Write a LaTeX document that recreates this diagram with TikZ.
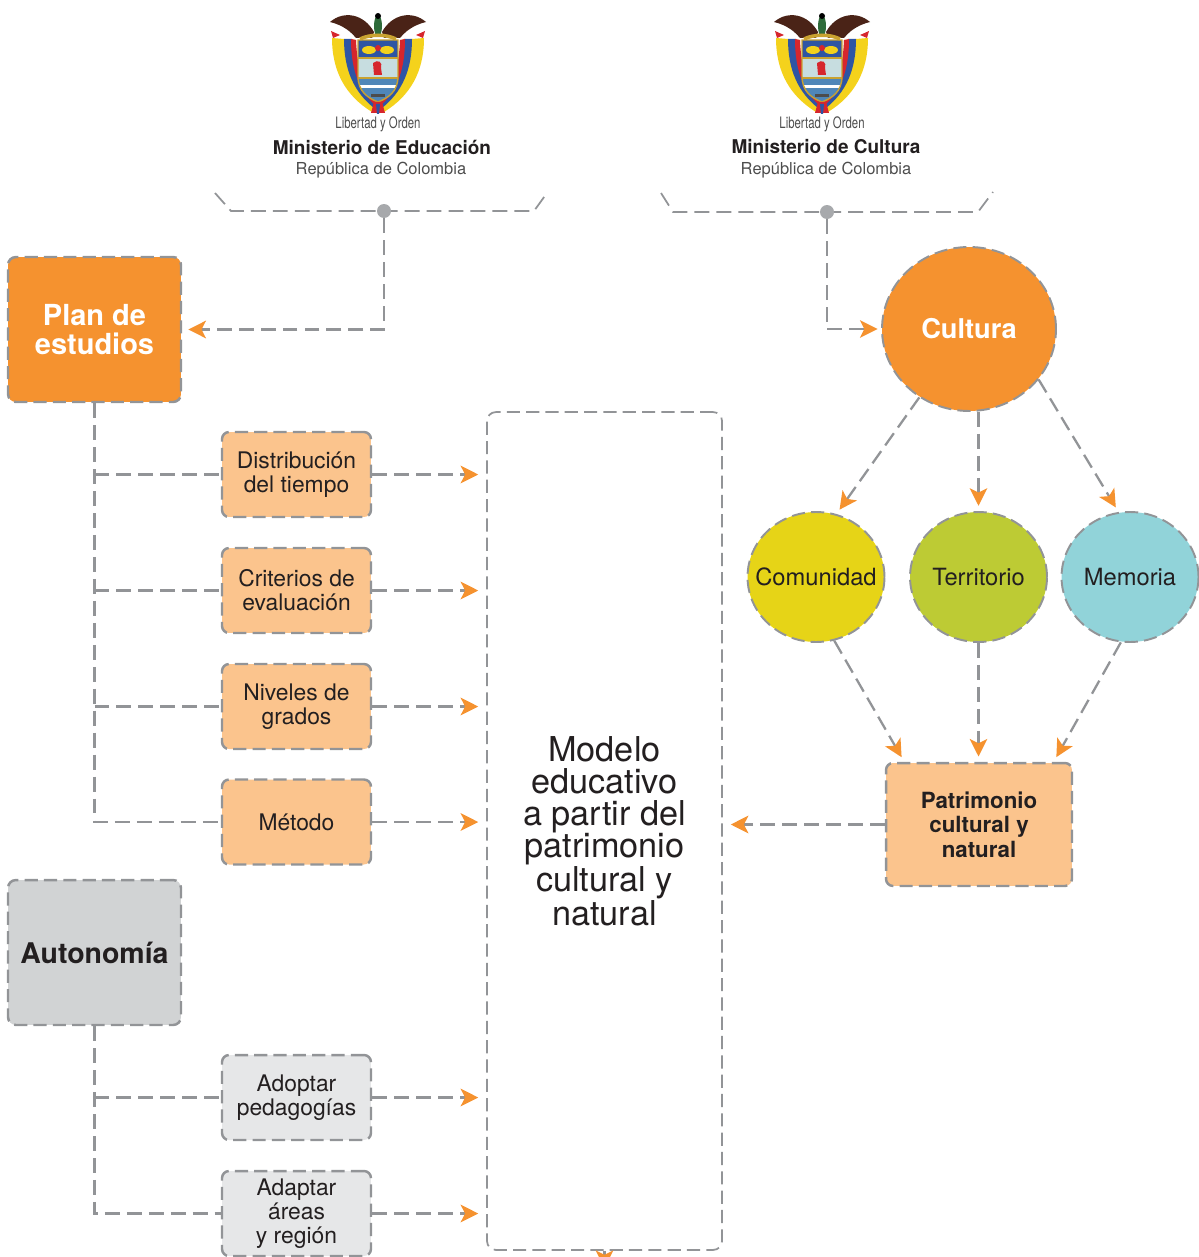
\documentclass[tikz,border=0pt]{standalone}
\usepackage{fontspec}
\setmainfont{TeX Gyre Heros}
\newfontfamily\condensada[FakeStretch=0.72]{TeX Gyre Heros}
\usetikzlibrary{arrows.meta,shapes.geometric}

\definecolor{naranja}{HTML}{F5922F}
\definecolor{naranjaclaro}{HTML}{FBC48D}
\definecolor{grislinea}{HTML}{929497}
\definecolor{grispunto}{HTML}{A7A9AC}
\definecolor{grisfondo}{HTML}{D1D3D4}
\definecolor{grisclaro}{HTML}{E6E7E8}
\definecolor{amarillo}{HTML}{E6D417}
\definecolor{verde}{HTML}{BDCB34}
\definecolor{celeste}{HTML}{91D3D9}
\definecolor{texto}{HTML}{231F20}
\definecolor{textogris}{HTML}{4D4D4D}
\definecolor{escudoamarillo}{HTML}{F4D21C}
\definecolor{escudoazul}{HTML}{2E55A4}
\definecolor{escudorojo}{HTML}{D6262D}
\definecolor{escudocafe}{HTML}{4A2317}
\definecolor{escudoceleste}{HTML}{C7DDE0}
\definecolor{escudomar}{HTML}{4F86B8}
\definecolor{escudooro}{HTML}{C9A230}
\definecolor{escudoverde}{HTML}{2F6B3A}

\tikzset{
  borde/.style={draw=grislinea, line width=1.4pt, dash pattern=on 7.5pt off 3.5pt},
  link/.style={grislinea, line width=1.3pt, dash pattern=on 8.5pt off 4pt},
  arr/.style={link, -{Stealth[length=10pt,width=10pt,inset=2.5pt,color=naranja]}, shorten >=3pt},
  cajagrande/.style={borde, rounded corners=4.5pt, minimum width=3.46cm, minimum height=2.9cm, align=center, inner sep=0pt},
  plancaja/.style={cajagrande, fill=naranja, text=white, font=\fontsize{16.5}{16.6}\selectfont\bfseries},
  autocaja/.style={cajagrande, fill=grisfondo, text=texto, font=\fontsize{16.2}{17}\selectfont\bfseries},
  cajita/.style={borde, rounded corners=4pt, minimum width=2.98cm, minimum height=1.7cm, align=center, inner sep=0pt, text=texto, font=\fontsize{13}{13.8}\selectfont},
  cajanaranja/.style={cajita, fill=naranjaclaro},
  cajagris/.style={cajita, fill=grisclaro},
  circulo/.style={borde, line width=1.1pt, ellipse, inner sep=0pt, minimum width=2.74cm, minimum height=2.6cm, text=texto, font=\fontsize{13.5}{14}\selectfont},
  punto/.style={circle, fill=grispunto, inner sep=0pt, minimum size=0.28cm},
  pics/escudo/.style={code={
    \foreach \s in {-1,1}{
      \fill[escudoamarillo] (\s*46,28) .. controls (\s*46,62) and (\s*32,86) .. (\s*6,102) -- (0,96) .. controls (\s*16,82) and (\s*22,58) .. (\s*22,30) -- cycle;
      \fill[escudoazul] (\s*34,29) .. controls (\s*34,60) and (\s*24,82) .. (\s*4,98) -- (0,95) .. controls (\s*16,80) and (\s*24,58) .. (\s*26,29) -- cycle;
      \fill[escudorojo] (\s*27,29) .. controls (\s*27,58) and (\s*20,80) .. (\s*2,96) -- (0,93) .. controls (\s*14,80) and (\s*21,58) .. (\s*22,30) -- cycle;
      \fill[escudorojo] (\s*47,21) -- (\s*38,25) -- (\s*45,28) -- cycle;
      \fill[escudocafe] (\s*4,22) .. controls (\s*14,4) and (\s*34,0) .. (\s*48,12) .. controls (\s*40,14) and (\s*30,18) .. (\s*22,28) -- (\s*6,28) -- cycle;
    }
    \begin{scope}
      \clip (-20,30) -- (20,30) -- (20,66) .. controls (20,82) and (10,88) .. (0,92) .. controls (-10,88) and (-20,82) .. (-20,66) -- cycle;
      \fill[escudoazul] (-20,30) rectangle (20,48);
      \fill[escudoceleste] (-20,48) rectangle (20,68);
      \fill[escudomar] (-20,68) rectangle (20,92);
      \fill[white] (-20,75) rectangle (20,78);
      \fill[escudoamarillo] (-9,40) ellipse [x radius=7, y radius=4];
      \fill[escudoamarillo] (9,40) ellipse [x radius=7, y radius=4];
      \fill[escudorojo] (0,38) circle [radius=3];
      \fill[escudorojo] (-4,65) -- (-5,53) .. controls (0,49) and (5,52) .. (3,58) -- (4,65) -- cycle;
      \fill[black!70] (-7,84) rectangle (7,87);
    \end{scope}
    \draw[escudooro, line width=0.8pt] (-20,30) -- (20,30) -- (20,66) .. controls (20,82) and (10,88) .. (0,92) .. controls (-10,88) and (-20,82) .. (-20,66) -- cycle;
    \draw[escudooro, line width=0.6pt] (-20,48) -- (20,48) (-20,68) -- (20,68);
    \fill[escudoverde] (0,16) ellipse [x radius=4, y radius=11];
    \fill[black] (0,6) circle [radius=3];
    \draw[escudooro, line width=2pt] (-18,29) .. controls (-8,24) and (8,24) .. (18,29);
    \fill[escudorojo] (-4,92) -- (4,92) -- (7,103) -- (-7,103) -- cycle;
    \fill[escudoazul] (-2,94) -- (2,94) -- (1,104) -- (-1,104) -- cycle;
  }}
}

\begin{document}
\begin{tikzpicture}[x=0.02cm, y=-0.02cm]
  \useasboundingbox (0,0) rectangle (1198,1257);

  % logos
  \pic at (378,10) {escudo};
  \pic at (822,10) {escudo};
  \node[text=textogris, font=\condensada\fontsize{9}{9}\selectfont] (libertadA) at (378,124) {Libertad y Orden};
  \node[text=texto, font=\fontsize{10.8}{11}\selectfont\bfseries] (minEdu) at (382,147) {Ministerio de Educación};
  \node[text=textogris, font=\fontsize{9.4}{10}\selectfont] (repA) at (381,170) {República de Colombia};
  \node[text=textogris, font=\condensada\fontsize{9}{9}\selectfont] (libertadB) at (822,124) {Libertad y Orden};
  \node[text=texto, font=\fontsize{10.8}{11}\selectfont\bfseries] (minCul) at (826,147) {Ministerio de Cultura};
  \node[text=textogris, font=\fontsize{9.4}{10}\selectfont] (repB) at (826,170) {República de Colombia};

  % llaves bajo los logos
  \coordinate (eduA) at (215,193);
  \coordinate (eduB) at (231,211);
  \coordinate (eduC) at (534,211);
  \coordinate (eduD) at (547,193);
  \coordinate (culA) at (661,193);
  \coordinate (culB) at (673,212);
  \coordinate (culC) at (978,212);
  \coordinate (culD) at (993,192);
  \draw[link, line width=1pt] (eduA) -- (eduB) -- (eduC) -- (eduD);
  \draw[link, line width=1pt] (culA) -- (culB) -- (culC) -- (culD);
  \node[punto] (eduPunto) at (384,211) {};
  \node[punto] (culPunto) at (827,212) {};

  % nodos
  \node[plancaja] (plan) at (94.5,329.5) {Plan de\\estudios};
  \node[cajanaranja] (distribucion) at (296.5,474.5) {Distribución\\del tiempo};
  \node[cajanaranja] (criterios) at (296.5,590.5) {Criterios de\\evaluación};
  \node[cajanaranja] (niveles) at (296.5,706.5) {Niveles de\\grados};
  \node[cajanaranja] (metodo) at (296.5,822) {Método};
  \node[autocaja] (autonomia) at (94.5,952.5) {Autonomía};
  \node[cajagris] (adoptar) at (296.5,1097.5) {Adoptar\\pedagogías};
  \node[cajagris] (adaptar) at (296.5,1213.5) {Adaptar\\áreas\\y región};
  \node[borde, line width=1pt, rounded corners=5pt, minimum width=4.7cm, minimum height=16.76cm, inner sep=0pt, align=center, text=texto, font=\fontsize{19.5}{18.2}\selectfont] (modelo) at (604.5,831) {Modelo\\educativo\\a partir del\\patrimonio\\cultural y\\natural};
  \node[borde, line width=1.1pt, ellipse, fill=naranja, inner sep=0pt, minimum width=3.48cm, minimum height=3.28cm, text=white, font=\fontsize{15.5}{16}\selectfont\bfseries] (cultura) at (969,329) {\makebox[0pt]{Cultura}};
  \node[circulo, fill=amarillo] (comunidad) at (816,577) {\makebox[0pt]{Comunidad}};
  \node[circulo, fill=verde] (territorio) at (978.5,577) {\makebox[0pt]{Territorio}};
  \node[circulo, fill=celeste] (memoria) at (1130,577) {\makebox[0pt]{Memoria}};
  \node[borde, fill=naranjaclaro, rounded corners=4pt, minimum width=3.72cm, minimum height=2.46cm, inner sep=0pt, align=center, text=texto, font=\fontsize{12.7}{13.9}\selectfont\bfseries] (patrimonio) at (979,824.5) {Patrimonio\\cultural y\\natural};

  % conexiones
  \draw[arr, shorten >=3.5pt] (eduPunto) |- (plan.east);
  \draw[arr, shorten >=2pt] (culPunto) |- (cultura.west);

  \draw[link] (plan.south) |- (metodo.west);
  \draw[link] (plan.south |- distribucion.west) -- (distribucion.west);
  \draw[link] (plan.south |- criterios.west) -- (criterios.west);
  \draw[link] (plan.south |- niveles.west) -- (niveles.west);
  \draw[link] (autonomia.south) |- (adaptar.west);
  \draw[link] (autonomia.south |- adoptar.west) -- (adoptar.west);

  \foreach \caja in {distribucion,criterios,niveles,metodo,adoptar,adaptar}
    \draw[arr, shorten >=4.5pt] (\caja.east) -- (\caja.east -| modelo.west);

  \draw[arr, shorten >=4.5pt] (patrimonio.west) -- (patrimonio.west -| modelo.east);

  \draw[arr] (cultura.234) -- (comunidad.72);
  \draw[arr] (cultura.south -| territorio.north) -- (territorio.north);
  \draw[arr] (cultura.-36) -- (memoria.100);

  \draw[arr] (comunidad.-74) -- (patrimonio.140);
  \draw[arr] (territorio.south) -- (territorio.south |- patrimonio.north);
  \draw[arr] (memoria.-98) -- (patrimonio.40);

  \coordinate (salida) at (604.5,1268);
  \draw[arr, shorten >=0pt] (modelo.south) -- (salida);
\end{tikzpicture}
\end{document}
